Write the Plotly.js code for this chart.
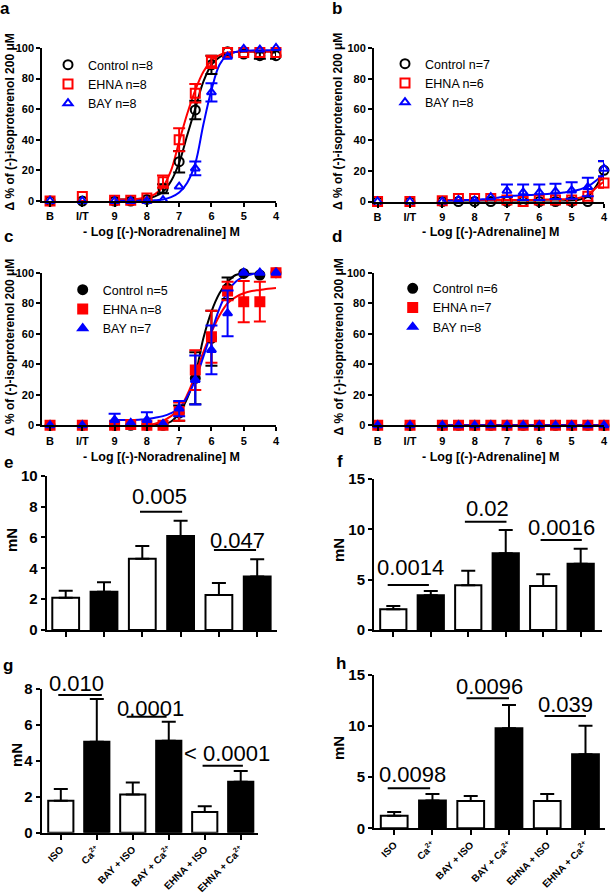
<!DOCTYPE html>
<html><head><meta charset="utf-8">
<script src="https://cdn.plot.ly/plotly-3.0.1.min.js"></script>
<style>html,body{margin:0;padding:0;background:#fff}#chart{width:610px;height:894px}</style>
</head><body><div id="chart"></div>
<script>
// ---------- DATA ----------
const xPts = [11, 10, 9, 8.5, 8, 7.5, 7, 6.5, 6, 5.5, 5, 4.5, 4];
const xTickVals = [11, 10, 9, 8, 7, 6, 5, 4];
const xTickText = ['B', 'I/T', '9', '8', '7', '6', '5', '4'];
const curveX = [9, 8.75, 8.5, 8.25, 8, 7.75, 7.5, 7.25, 7, 6.75, 6.5, 6.25, 6, 5.75, 5.5, 5.25, 5, 4.75, 4.5, 4.25, 4];

// panel a (noradrenaline, open symbols)
const aCtrl = [0, 0, 0, 0, 1, 8, 25.7, 59.5, 89, 97.6, 96, 95, 95];
const aCtrlErr = [0, 0, 0, 0, 0, 3, 7, 6, 6, 0, 0, 2, 2];
const aEhna = [0, 3, 0.5, 0.5, 2, 12.6, 40, 70.4, 91, 97, 97, 97, 97];
const aEhnaErr = [0, 0, 0, 0, 0, 4, 7.5, 6, 4, 0, 0, 0, 0];
const aBay = [0, 0, 0, 0, 0, 0.6, 9.4, 21.3, 71, 94.3, 99.5, 99, 100];
const aBayErr = [0, 0, 0, 0, 0, 0, 0, 4.5, 6, 0, 0, 0, 0];
const aCtrlFit = [1, 1, 1, 1.2, 1.5, 3, 6, 13, 25, 43, 60.5, 78, 89, 94, 96.5, 97.3, 97.6, 97.7, 97.8, 97.8, 97.8];
const aEhnaFit = [1, 1, 1, 1.5, 2.5, 4.5, 9.4, 20, 38.8, 57, 72.5, 84.5, 91.7, 95.4, 97, 97.4, 97.6, 97.6, 97.6, 97.6, 97.6];
const aBayFit = [0.2, 0.2, 0.2, 0.2, 0.3, 0.5, 1, 2.5, 5.5, 12, 24.6, 50, 72.5, 89, 95.4, 97.4, 98, 98.4, 98.6, 98.6, 98.6];

// panel b (adrenaline, open symbols)
const bCtrl = [0, 0, 0, 0, 0, 0, 0, 0, 0, 0, 0, 0, 20.3];
const bCtrlErr = [0, 0, 0, 0, 0, 0, 0, 0, 0, 0, 0, 0, 6];
const bEhna = [0, 0, 0.5, 2, 2, 2, 1, 0, 1, 1, 1, 3.5, 12];
const bEhnaErr = [0, 0, 0, 0, 0, 0, 0, 0, 0, 0, 0, 0, 3];
const bBay = [0, 0, 0, 1, 0.8, 2.8, 7, 6, 6, 6.6, 7.2, 9.4, 21.4];
const bBayErr = [0, 0, 0, 0, 0, 0, 4, 5, 5, 5, 5.4, 6, 5];
const bCtrlFit = [0, 0, 0, 0, 0, 0, 0, 0, 0, 0, 0, 0, 0, 0, 0, 0.2, 0.5, 1.3, 3.3, 9.8, 19.6];
const bEhnaFit = [1, 1, 1, 1, 1, 1, 1, 1, 1, 1, 1, 1, 1.2, 1.3, 1.4, 1.5, 1.7, 2.5, 4.4, 8.8, 13];
const bBayFit = [0.3, 0.5, 0.7, 0.9, 1, 1.4, 1.8, 2.6, 3.5, 3.8, 4.1, 4.3, 4.6, 4.9, 5.2, 5.8, 6.5, 7.8, 9.8, 13.5, 18.5];

// panel c (noradrenaline, filled symbols)
const cCtrl = [0, 0, 0, 0, 0, 0, 8, 30.8, 57, 89.8, 99.5, 98.5, 100];
const cCtrlErr = [0, 0, 0, 0, 0, 0, 5, 17, 18, 7, 0, 0, 0];
const cEhna = [0, 0, 0, 0.5, 0, 0, 9, 36.2, 58, 88, 81, 81, 100];
const cEhnaErr = [0, 0, 0, 0, 0, 0, 6, 13, 17, 6, 13.5, 13, 0];
const cBay = [0, 0, 3.5, 1.5, 3.5, 1, 11, 29.7, 49.4, 73.4, 100, 100, 100];
const cBayErr = [0, 0, 4, 0, 5, 0, 5, 16, 16, 15, 0, 0, 0];
const cCtrlFit = [null, null, null, null, 0, 0.2, 0.5, 2.5, 8, 17.7, 33, 57, 74.5, 86.5, 94, 98.5, 99.5, 99.8, 100, null, null];
const cEhnaFit = [null, null, null, null, 0, 1, 3, 6, 10.5, 20, 33, 48, 61, 72, 80, 84, 86.5, 88, 88.7, 89.5, 90];
const cBayFit = [3.5, 3.5, 3.5, 3.7, 4, 5, 6, 8, 11, 18.7, 29.7, 45, 61, 76.7, 87.6, 94, 97.4, 99, 100, null, null];

// panel d (adrenaline, filled symbols)
const dCtrl = [0, 0, 0, 0, 0, 0, 0, 0, 0, 0, 0, 0, 0];
const dEhna = [0, 0, 0, 0, 0, 0, 0, 0, 0, 0, 0, 0, 0];
const dBay = [0, 0, 0, 0, 0, 0, 0, 0, 0, 0, 0, 0, 0];
const dZeroErr = [0, 0, 0, 0, 0, 0, 0, 0, 0, 0, 0, 0, 0];
const dCtrlFit = [0, 0, 0, 0, 0, 0, 0, 0, 0, 0, 0, 0, 0, 0, 0, 0, 0, 0, 0, 0, 0];
const dEhnaFit = [0, 0, 0, 0, 0, 0, 0, 0, 0, 0, 0, 0, 0, 0, 0, 0, 0, 0, 0, 0, 0];
const dBayFit = [0, 0, 0, 0, 0, 0, 0, 0, 0, 0, 0, 0, 0, 0, 0, 0, 0, 0, 0, 0, 0];

const legendA = ['Control n=8', 'EHNA n=8', 'BAY n=8'];
const legendB = ['Control n=7', 'EHNA n=6', 'BAY n=8'];
const legendC = ['Control n=5', 'EHNA n=8', 'BAY n=7'];
const legendD = ['Control n=6', 'EHNA n=7', 'BAY n=8'];

// bar panels
const barPos = [0, 1, 2, 3, 4, 5];
const barCats = ['ISO', 'Ca<sup>2+</sup>', 'BAY + ISO', 'BAY + Ca<sup>2+</sup>', 'EHNA + ISO', 'EHNA + Ca<sup>2+</sup>'];
const barFill = ['white', 'black', 'white', 'black', 'white', 'black'];
const eVals = [2.09, 2.48, 4.62, 6.09, 2.27, 3.46];
const eErr = [0.46, 0.61, 0.82, 0.99, 0.78, 1.12];
const fVals = [2.05, 3.44, 4.44, 7.62, 4.37, 6.59];
const fErr = [0.33, 0.43, 1.45, 2.31, 1.16, 1.49];
const gVals = [1.78, 5.06, 2.13, 5.12, 1.15, 2.84];
const gErr = [0.65, 2.38, 0.67, 1.06, 0.32, 0.59];
const hVals = [1.24, 2.71, 2.67, 9.78, 2.67, 7.24];
const hErr = [0.36, 0.65, 0.49, 2.28, 0.69, 2.80];
const ePvals = ['0.005', '0.047'];
const fPvals = ['0.0014', '0.02', '0.0016'];
const gPvals = ['0.010', '0.0001', '< 0.0001'];
const hPvals = ['0.0098', '0.0096', '0.039'];

// ---------- LAYOUT HELPERS ----------
const W = 610, H = 894;
const FX = p => p / W;
const FY = p => 1 - p / H;
const FONT = 'Liberation Sans, Arial, Helvetica, sans-serif';
const BLACK = '#000000', RED = '#ff0000', BLUE = '#0000ff';
const ax = (i, c) => c + (i === 1 ? '' : i);
const axKey = (i, c) => c + 'axis' + (i === 1 ? '' : i);
const nanZero = arr => arr.map(v => (v === 0 ? NaN : v));

const baseAxis = {
  showline: true, linecolor: 'black', linewidth: 2, ticks: 'outside', ticklen: 4,
  tickwidth: 2, tickcolor: 'black', showgrid: false, zeroline: false, fixedrange: true
};

const layout = {
  width: W, height: H, margin: {l: 0, r: 0, t: 0, b: 0},
  paper_bgcolor: 'white', plot_bgcolor: 'rgba(0,0,0,0)',
  font: {family: FONT, color: 'black'},
  showlegend: true, annotations: [], shapes: []
};

const traces = [];

const curvePanels = [
  {i: 1, xd: [42.3, 276], yd: [48, 201], xr: [11.24, 4]},
  {i: 2, xd: [374, 604], yd: [48, 201.5], xr: [11.11, 4]},
  {i: 3, xd: [42.3, 276], yd: [272.7, 425.3], xr: [11.24, 4]},
  {i: 4, xd: [373.5, 604], yd: [272.7, 425.3], xr: [11.13, 4]}
];
curvePanels.forEach(p => {
  layout[axKey(p.i, 'x')] = Object.assign({}, baseAxis, {
    domain: [FX(p.xd[0]), FX(p.xd[1])], range: p.xr, tickvals: xTickVals, ticktext: xTickText,
    anchor: ax(p.i, 'y'), tickfont: {family: FONT, size: 11, color: 'black', weight: 'bold'}
  });
  layout[axKey(p.i, 'y')] = Object.assign({}, baseAxis, {
    domain: [FY(p.yd[1]), FY(p.yd[0])], range: [0, 100], tickvals: [0, 20, 40, 60, 80, 100],
    anchor: ax(p.i, 'x'), tickfont: {family: FONT, size: 11, color: 'black', weight: 'bold'}
  });
});

const barPanels = [
  {i: 5, xd: [46.7, 276.7], yd: [475.7, 630], xr: [-0.496, 5.509], yr: [0, 10], dt: 2, labels: false},
  {i: 6, xd: [374, 601.7], yd: [479, 630], xr: [-0.515, 5.561], yr: [0, 15], dt: 5, labels: false},
  {i: 7, xd: [41.7, 258], yd: [689, 832.7], xr: [-0.531, 5.48], yr: [0, 8], dt: 2, labels: true},
  {i: 8, xd: [374, 605], yd: [675, 828.3], xr: [-0.528, 5.51], yr: [0, 15], dt: 5, labels: true}
];
barPanels.forEach(p => {
  layout[axKey(p.i, 'x')] = Object.assign({}, baseAxis, {
    domain: [FX(p.xd[0]), FX(p.xd[1])], range: p.xr, tickvals: barPos, ticktext: barCats,
    showticklabels: p.labels, tickangle: -45, ticklen: 5,
    anchor: ax(p.i, 'y'), tickfont: {family: FONT, size: 10, color: 'black', weight: 'bold'}
  });
  layout[axKey(p.i, 'y')] = Object.assign({}, baseAxis, {
    domain: [FY(p.yd[1]), FY(p.yd[0])], range: p.yr, dtick: p.dt, tick0: 0,
    anchor: ax(p.i, 'x'), tickfont: {family: FONT, size: 15, color: 'black', weight: 'bold'}
  });
});

// ---------- TRACES ----------
function curve(i, y, color) {
  traces.push({type: 'scatter', mode: 'lines', x: curveX, y: y, xaxis: ax(i, 'x'), yaxis: ax(i, 'y'),
    line: {color: color, width: 2, shape: 'spline', smoothing: 1}, cliponaxis: false,
    showlegend: false, hoverinfo: 'skip'});
}
function points(i, y, err, color, symbol, size) {
  traces.push({type: 'scatter', mode: 'markers', x: xPts, y: y, xaxis: ax(i, 'x'), yaxis: ax(i, 'y'),
    marker: {symbol: symbol, size: size, color: color, line: {color: color, width: 2}},
    error_y: {type: 'data', array: nanZero(err), visible: true, color: color, thickness: 2, width: 6},
    cliponaxis: false, showlegend: false});
}
function legendItems(i, names, open) {
  const syms = open ? ['circle-open', 'square-open', 'triangle-up-open'] : ['circle', 'square', 'triangle-up'];
  const sizes = [9, 9, 8];
  const cols = [BLACK, RED, BLUE];
  names.forEach((n, k) => traces.push({type: 'scatter', mode: 'markers', x: [null], y: [null],
    xaxis: ax(i, 'x'), yaxis: ax(i, 'y'), name: n, legend: 'legend' + (i === 1 ? '' : i),
    marker: {symbol: syms[k], size: sizes[k], color: cols[k], line: {color: cols[k], width: 2}}}));
}

const curveSets = [
  {i: 1, fits: [aCtrlFit, aEhnaFit, aBayFit], pts: [aCtrl, aEhna, aBay], errs: [aCtrlErr, aEhnaErr, aBayErr], open: true, names: legendA},
  {i: 2, fits: [bCtrlFit, bEhnaFit, bBayFit], pts: [bCtrl, bEhna, bBay], errs: [bCtrlErr, bEhnaErr, bBayErr], open: true, names: legendB},
  {i: 3, fits: [cCtrlFit, cEhnaFit, cBayFit], pts: [cCtrl, cEhna, cBay], errs: [cCtrlErr, cEhnaErr, cBayErr], open: false, names: legendC},
  {i: 4, fits: [dCtrlFit, dEhnaFit, dBayFit], pts: [dCtrl, dEhna, dBay], errs: [dZeroErr, dZeroErr, dZeroErr], open: false, names: legendD}
];
curveSets.forEach(s => {
  const cols = [BLACK, RED, BLUE];
  const syms = s.open ? ['circle-open', 'square-open', 'triangle-up-open'] : ['circle', 'square', 'triangle-up'];
  const sizes = [9, 9, 8];
  s.fits.forEach((f, k) => curve(s.i, f, cols[k]));
  s.pts.forEach((p, k) => points(s.i, p, s.errs[k], cols[k], syms[k], sizes[k]));
  legendItems(s.i, s.names, s.open);
});

function bars(i, vals, err) {
  traces.push({type: 'bar', x: barPos, y: vals, width: 0.7, xaxis: ax(i, 'x'), yaxis: ax(i, 'y'),
    marker: {color: barFill, line: {color: 'black', width: 2}},
    error_y: {type: 'data', symmetric: false, array: err, arrayminus: err.map(() => 0),
      color: 'black', thickness: 2, width: 7},
    showlegend: false});
}
bars(5, eVals, eErr);
bars(6, fVals, fErr);
bars(7, gVals, gErr);
bars(8, hVals, hErr);

// ---------- LEGENDS ----------
const legPos = [
  {i: 1, mx: 68, ry: 59}, {i: 2, mx: 405, ry: 58}, {i: 3, mx: 82.7, ry: 284}, {i: 4, mx: 412.7, ry: 282.7}
];
legPos.forEach(l => {
  layout['legend' + (l.i === 1 ? '' : l.i)] = {
    x: FX(l.mx - 20), y: FY(l.ry - 9), xanchor: 'left', yanchor: 'top',
    bgcolor: 'rgba(0,0,0,0)', borderwidth: 0, itemwidth: 30, tracegroupgap: 0,
    font: {family: FONT, size: 12.5, color: 'black'}, itemclick: false, itemdoubleclick: false
  };
});

// ---------- ANNOTATIONS ----------
function txt(x, y, text, size, bold, angle) {
  layout.annotations.push({xref: 'paper', yref: 'paper', x: FX(x), y: FY(y), text: text,
    showarrow: false, xanchor: 'center', yanchor: 'middle', textangle: angle || 0,
    font: {family: FONT, size: size, color: 'black', weight: bold ? 'bold' : 'normal'}});
}
// panel letters
[['a', 5, 8], ['b', 336.7, 8], ['c', 8, 236], ['d', 336.7, 236], ['e', 8, 462], ['f', 340, 461.7], ['g', 8, 665], ['h', 340.8, 663]]
  .forEach(l => txt(l[1], l[2], l[0], 17, true));
// axis titles
const yTitle = 'Δ % of (-)-isoproterenol 200 μM';
txt(9.5, 122, yTitle, 12, true, -90);
txt(338, 122, yTitle, 12, true, -90);
txt(9.5, 347.5, yTitle, 12, true, -90);
txt(338, 347.5, yTitle, 12, true, -90);
txt(161.7, 232, '- Log [(-)-Noradrenaline] M', 12.5, true);
txt(490, 232, '- Log [(-)-Adrenaline] M', 12.5, true);
txt(161.7, 457, '- Log [(-)-Noradrenaline] M', 12.5, true);
txt(490, 457, '- Log [(-)-Adrenaline] M', 12.5, true);
txt(11, 540, 'mN', 15, true, -90);
txt(338, 550, 'mN', 15, true, -90);
txt(16.5, 755.5, 'mN', 15, true, -90);
txt(338, 748, 'mN', 15, true, -90);

// convert a data value of panel i to paper coordinates (so labels above the range still show)
function toPaper(i, c, v) {
  const a = layout[axKey(i, c)];
  return a.domain[0] + (v - a.range[0]) / (a.range[1] - a.range[0]) * (a.domain[1] - a.domain[0]);
}
// significance lines + p values
function sig(i, x0, x1, yLine, text, tx, ty) {
  layout.shapes.push({type: 'line', xref: ax(i, 'x'), yref: ax(i, 'y'), x0: x0, x1: x1, y0: yLine, y1: yLine,
    line: {color: 'black', width: 2}});
  layout.annotations.push({xref: 'paper', yref: 'paper', x: toPaper(i, 'x', tx), y: toPaper(i, 'y', ty),
    text: text, showarrow: false, xanchor: 'center', yanchor: 'middle',
    font: {family: FONT, size: 22, color: 'black'}});
}
sig(5, 1.94, 3.04, 7.67, ePvals[0], 2.46, 8.62);
sig(5, 3.87, 4.97, 5.18, ePvals[1], 4.49, 5.83);
sig(6, -0.15, 0.95, 4.47, fPvals[0], 0.45, 6.16);
sig(6, 1.91, 3.02, 10.75, fPvals[1], 2.52, 12.1);
sig(6, 3.93, 5.03, 8.94, fPvals[2], 4.5, 10.2);
sig(7, -0.07, 1.14, 7.67, gPvals[0], 0.44, 8.32);
sig(7, 1.83, 2.94, 6.46, gPvals[1], 2.48, 6.93);
sig(7, 3.94, 5.06, 3.73, gPvals[2], 4.63, 4.42);
sig(8, -0.17, 0.94, 3.91, hPvals[0], 0.47, 5.22);
sig(8, 1.89, 3.0, 12.72, hPvals[1], 2.49, 13.86);
sig(8, 3.93, 5.01, 10.99, hPvals[2], 4.48, 12.13);

Plotly.newPlot('chart', traces, layout, {displayModeBar: false, staticPlot: true});
</script></body></html>
